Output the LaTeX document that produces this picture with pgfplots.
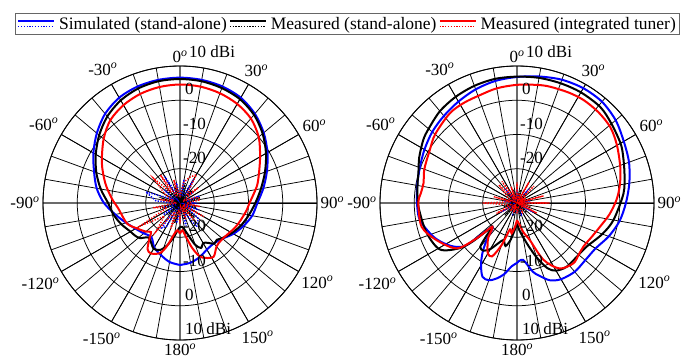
\documentclass[border=0pt]{standalone}
\usepackage{fontspec}
\setmainfont{Liberation Serif}
\usepackage{pgfplots}
\pgfplotsset{compat=1.18}
\usepgfplotslibrary{polar}
\newcommand\dg{\textsuperscript{\textit{o}}}
\newcommand\fs{\fontsize{17}{20}\selectfont}
\newcommand\fl{\fontsize{17.5}{20}\selectfont}
\tikzset{rlab/.style={anchor=south west, inner sep=1pt, font=\fs, xshift=4pt, yshift=4pt}}
\pgfplotsset{
  co/.style={smooth, line width=2pt, no markers, solid},
  cx/.style={line width=1.4pt, dash pattern=on 1.3pt off 1.5pt, no markers},
  mypolar/.style={
    scale only axis, width=274pt, height=274pt, anchor=center, clip=false,
    ymin=0, ymax=40, xmin=0, xmax=360,
    xtick={0,30,...,330},
    xticklabels={90\dg,60\dg,30\dg,0\dg,-30\dg,-60\dg,-90\dg,-120\dg,-150\dg,180\dg,150\dg,120\dg},
    minor xtick={0,10,...,350},
    ytick={0,10,20,30,40}, yticklabels={,,,,},
    grid=both,
    major grid style={black, line width=0.75pt},
    minor grid style={black, line width=0.75pt},
    axis line style={black, line width=0.9pt},
    major tick length=0pt, minor tick length=0pt,
    x filter/.expression={90-x}, y filter/.expression={y+30},
    tick label style={font=\fs},
  },
}
\begin{document}
\begin{tikzpicture}[x=1pt,y=1pt]
\path[use as bounding box] (0,0) rectangle (683,362);
%================ LEFT =================
\begin{polaraxis}[mypolar, at={(180pt,159pt)}]
\addplot[co, blue] table {
-180 -11.9
-170 -12.5
-160 -13.8
-150 -15.0
-140 -17.0
-130 -16.2
-120 -15.0
-110 -13.2
-100 -10.8
-90 -7.8
-80 -5.3
-70 -3.3
-60 -0.8
-50 1.7
-40 4.0
-30 5.5
-20 6.2
-10 6.5
0 6.6
10 6.5
20 6.2
30 5.5
40 4.0
50 1.9
60 -0.5
70 -3.0
80 -5.3
90 -7.4
100 -8.6
110 -10.3
120 -12.0
130 -13.8
140 -14.6
150 -14.3
160 -13.2
170 -12.3
180 -11.9
};
\addplot[cx, blue] table {
-180 -27
-170 -24
-160 -29
-150 -22
-144 -21
-135 -28
-125 -24
-115 -29
-105 -25
-95 -29
-85 -23
-72 -19.5
-60 -28
-50 -24
-40 -29
-30 -21
-20 -27
-10 -24
0 -28
10 -23
20 -28
30 -22
40 -27
50 -25
60 -29
70 -24
80 -28
90 -26
100 -29
110 -24
120 -28
130 -23
145 -21.5
155 -27
165 -23
175 -28
180 -27
};
\addplot[co, black] table {
-180 -23
-175 -22
-170 -20
-163 -17
-157 -15.1
-150 -14.6
-142 -16
-137 -16.3
-131 -14.4
-125 -13.7
-120 -13.3
-110 -11.8
-100 -10.3
-90 -9.0
-80 -6.5
-70 -4.0
-60 -1.6
-50 0.8
-40 3.0
-30 4.6
-20 5.6
-10 6.1
0 6.2
10 6.1
20 5.7
30 5.0
40 3.6
50 1.5
60 -1.0
70 -3.6
80 -6.0
90 -8.0
100 -9.6
110 -11.0
120 -12.5
130 -14.0
135 -14.8
140 -14.5
145 -15.8
150 -16.5
155 -15.5
160 -17
165 -20
170 -22
175 -23
180 -23
};
\addplot[cx, black] table {
-180 -28
-165 -24
-150 -29
-135 -25
-120 -29
-105 -24
-90 -28
-75 -25
-60 -29
-45 -24
-30 -28
-15 -25
0 -29
15 -24
30 -28
45 -25
60 -29
75 -24
90 -28
105 -25
120 -29
135 -24
150 -28
165 -25
180 -28
};
\addplot[co, red] table {
-180 -21
-175 -22
-170 -21
-163 -16.7
-158 -14.2
-150 -13
-145 -13.5
-140 -16
-135 -18
-130 -17
-120 -15.3
-111 -13.4
-95 -11.9
-86 -10
-75 -7.4
-63 -4.4
-50 -0.9
-40 1.6
-30 3.0
-20 3.9
-10 4.4
0 4.6
10 4.5
20 4.1
30 3.4
40 2.2
50 0.0
60 -3.0
70 -5.5
78 -7.1
90 -9.7
96 -10.4
107 -11.7
115 -12.5
125 -13.5
133 -13.8
140 -13.4
148 -11.5
155 -12.3
160 -13.5
165 -16.5
170 -20
175 -22
180 -21
};
\addplot[cx, red] table {
-180 -24
-170 -28
-160 -22
-150 -27
-140 -19
-130 -24
-120 -16.5
-110 -26
-100 -22
-90 -29
-80 -24
-70 -28
-60 -25
-47 -19.4
-40 -26
-35 -20
-25 -28
-15 -23
0 -28
10 -24
20 -22
30 -20.5
40 -27
50 -23
60 -29
70 -25
81 -24
90 -28
100 -24
110 -29
120 -22
130 -29
140 -23
150 -28
160 -25
170 -29
180 -24
};
\node[rlab, xshift=4pt, yshift=3pt] at (axis cs:90,40) {10 dBi};
\node[rlab] at (axis cs:90,30) {0};
\node[rlab, xshift=-2pt] at (axis cs:90,20) {-10};
\node[rlab, xshift=-2pt] at (axis cs:90,10) {-20};
\node[rlab] at (axis cs:270,40) {10 dBi};
\node[rlab] at (axis cs:270,30) {0};
\node[rlab, xshift=-2pt] at (axis cs:270,20) {-10};
\node[rlab, xshift=-2pt] at (axis cs:270,10) {-20};
\end{polaraxis}
%================ RIGHT =================
\begin{polaraxis}[mypolar, at={(517pt,159pt)}]
\addplot[co, blue] table {
-180 -12.5
-175 -11.4
-170 -9
-165 -7.2
-160 -6.0
-155 -6.2
-150 -9
-145 -12.5
-140 -16.5
-134 -20
-130 -11
-126 -8.2
-120 -6
-112 -3.7
-100 -1.2
-90 -0.8
-80 -0.4
-70 0.2
-60 1.2
-50 2.3
-40 3.2
-30 4.2
-20 5.3
-10 6.2
0 6.8
10 7.5
20 8.3
30 8.7
40 8.6
50 7.6
60 6.0
70 4.8
80 3.3
90 1.8
100 0.4
110 -1.5
120 -3.5
130 -4.0
140 -3.8
150 -4.3
157 -5.5
163 -7.8
167 -9.4
174 -13.3
180 -12.5
};
\addplot[cx, blue] table {
-180 -28
-160 -26
-140 -29
-120 -26
-100 -29
-80 -26
-60 -29
-40 -26
-20 -29
0 -26
20 -29
40 -26
60 -29
80 -26
100 -29
120 -26
140 -29
160 -26
180 -28
};
\addplot[co, black] table {
-180 -24
-175 -22
-170 -19
-165 -17
-160 -18.5
-155 -17
-150 -14.5
-145 -13
-140 -13.3
-137 -17
-134 -20
-131 -13
-128 -8.5
-121 -3.7
-108 -2.2
-92 -1.2
-80 -0.5
-73 0.1
-65 1.5
-56 3.0
-50 3.7
-40 5.0
-30 5.8
-20 6.4
-10 6.8
0 6.9
10 7.1
20 7.2
30 7.3
41 7.1
50 6.0
60 4.9
66 3.9
75 2.5
85 1.2
100 -1.4
110 -3.5
122 -6.0
130 -6.5
142 -6.4
150 -7.2
155 -9
160 -13
165 -17
170 -20
175 -22
180 -24
};
\addplot[cx, black] table {
-180 -29
-165 -26
-150 -29
-135 -25
-120 -29
-105 -26
-90 -29
-75 -26
-60 -29
-45 -26
-30 -29
-15 -26
0 -29
15 -26
30 -29
45 -26
60 -29
75 -26
90 -29
105 -26
120 -29
135 -26
150 -29
165 -26
180 -29
};
\addplot[co, red] table {
-180 -25
-175 -23
-170 -21
-165 -22
-160 -17
-155 -12.8
-150 -13
-145 -15
-140 -17
-134 -20
-131 -14
-127 -8
-115 -4.2
-104 -1.3
-90 -1.2
-84 -1.8
-78 -2.1
-70 -1.2
-59 -0.25
-50 1.2
-37 2.7
-28 3.1
-19 3.3
-10 4.0
0 4.5
10 5.0
16 5.3
25 5.6
33 5.8
42 5.6
51 5.1
60 3.7
71 1.9
80 0.5
88 -0.9
97 -2.8
106 -4.8
114 -6.0
123 -6.8
130 -6.5
137 -5.9
147 -7.2
155 -11.7
161 -18.6
167 -21
173 -23.5
180 -25
};
\addplot[cx, red] table {
-180 -27
-170 -29
-160 -27
-150 -29
-140 -27
-130 -29
-117 -23.3
-105 -28
-90 -20
-80 -28
-75 -23
-65 -29
-60 -27
-45 -22.5
-40 -28
-35 -22.3
-25 -28
-20 -25
-10 -29
0 -24
8 -29
15 -27
22 -29
30 -23
38 -29
45 -23
52 -29
60 -27
67 -29
75 -22
82 -29
90 -20.5
98 -29
105 -26
110 -29
117 -23.5
125 -29
130 -28
150 -27
160 -29
170 -28
180 -27
};
\node[rlab, xshift=4pt, yshift=3pt] at (axis cs:90,40) {10 dBi};
\node[rlab] at (axis cs:90,30) {0};
\node[rlab, xshift=-2pt] at (axis cs:90,20) {-10};
\node[rlab, xshift=-2pt] at (axis cs:90,10) {-20};
\node[rlab] at (axis cs:270,40) {10 dBi};
\node[rlab] at (axis cs:270,30) {0};
\node[rlab, xshift=-2pt] at (axis cs:270,20) {-10};
\node[rlab, xshift=-2pt] at (axis cs:270,10) {-20};
\end{polaraxis}
%================ LEGEND =================
\begin{axis}[at={(347.5pt,338pt)}, anchor=center, hide axis, scale only axis,
  width=1pt, height=1pt, xmin=0, xmax=1, ymin=0, ymax=1,
  legend columns=3,
  legend style={at={(0.5,0.5)}, anchor=center, draw=gray!80!black, line width=0.8pt,
    font=\fl, inner sep=1.5pt, row sep=0pt,
    /tikz/every even column/.append style={column sep=0pt},
    /tikz/every odd column/.append style={column sep=2pt}},
  legend image code/.code={
    \draw[#1, solid, line width=2pt] (0pt,2.8pt) -- (36pt,2.8pt);
    \draw[#1, line width=1.4pt, dash pattern=on 1.3pt off 1.5pt] (0pt,-2.8pt) -- (36pt,-2.8pt);
  }]
\addlegendimage{blue}
\addlegendentry{Simulated (stand-alone)}
\addlegendimage{black}
\addlegendentry{Measured (stand-alone)}
\addlegendimage{red}
\addlegendentry{Measured (integrated tuner)}
\end{axis}
\end{tikzpicture}
\end{document}
